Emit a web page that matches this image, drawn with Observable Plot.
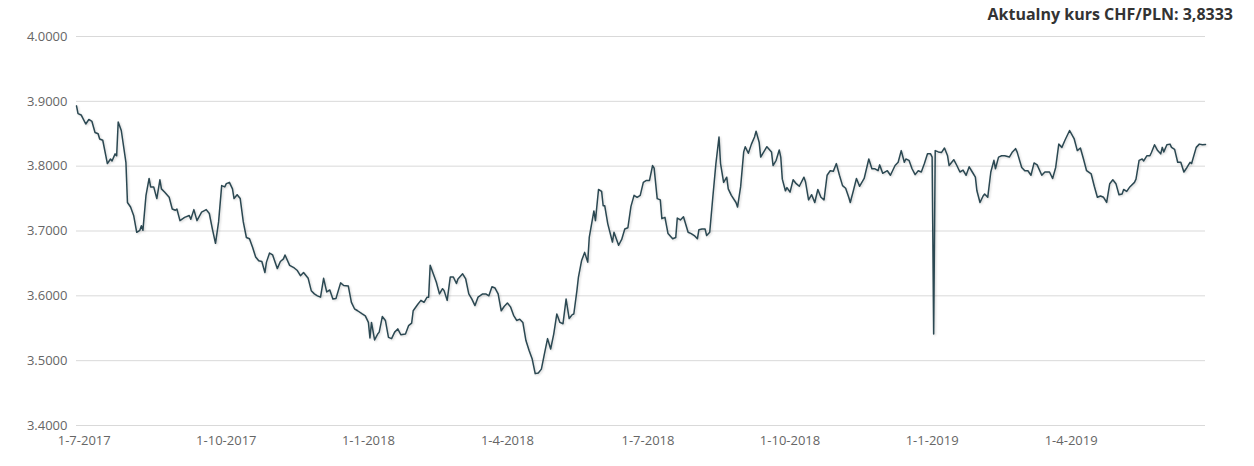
<!DOCTYPE html>
<html><head><meta charset="utf-8">
<script src="https://cdn.jsdelivr.net/npm/d3@7"></script>
<script src="https://cdn.jsdelivr.net/npm/@observablehq/plot@0.6"></script>
<style>
body{margin:0;background:#fff;font-family:"Open Sans",sans-serif;}
#wrap{position:relative;width:1254px;height:466px;}
#title{position:absolute;right:21px;top:3px;font-size:16px;font-weight:700;color:#333;font-family:"Open Sans",sans-serif;}
.series path{filter:drop-shadow(1px 1.5px 1px rgba(0,0,0,0.18));}
</style></head><body><div id="wrap"><div id="title">Aktualny kurs CHF/PLN: 3,8333</div></div>
<script>
const titleText = "Aktualny kurs CHF/PLN: 3,8333";
const yTicks = [3.4, 3.5, 3.6, 3.7, 3.8, 3.9, 4.0];

const dates2017 = [
  "06-26","06-27","06-29",
  "07-02","07-04","07-06","07-08","07-10","07-11","07-13","07-16","07-18","07-19","07-21","07-22","07-23","07-25","07-28","07-29","07-31",
  "08-02","08-04","08-06","08-07","08-08","08-10","08-12","08-13","08-15","08-17","08-19","08-20","08-22","08-25","08-27","08-29","08-30",
  "09-01","09-04","09-07","09-08","09-10","09-12","09-15","09-18","09-20","09-22","09-24","09-26","09-28","09-30",
  "10-01","10-03","10-05","10-06","10-08","10-10","10-12","10-14","10-16","10-18","10-20","10-22","10-24","10-26","10-27","10-29","10-31",
  "11-03","11-05","11-07","11-08","11-11","11-14","11-16","11-18","11-20","11-23","11-25","11-27","11-29",
  "12-01","12-03","12-05","12-07","12-09","12-11","12-14","12-16","12-19","12-21","12-23","12-25","12-28","12-30"
];
const values2017 = [
  3.893,3.881,3.879,
  3.865,3.872,3.869,3.852,3.850,3.842,3.840,3.804,3.811,3.808,3.819,3.816,3.868,3.855,3.806,3.744,3.737,
  3.724,3.698,3.701,3.708,3.701,3.755,3.781,3.768,3.768,3.750,3.779,3.765,3.760,3.752,3.734,3.732,3.734,
  3.716,3.721,3.724,3.718,3.733,3.716,3.729,3.733,3.727,3.703,3.681,3.714,3.770,3.768,
  3.773,3.775,3.765,3.750,3.756,3.750,3.714,3.690,3.688,3.675,3.660,3.654,3.653,3.636,3.652,3.666,3.663,
  3.642,3.653,3.657,3.663,3.647,3.643,3.639,3.631,3.636,3.627,3.608,3.603,3.600,
  3.598,3.627,3.606,3.609,3.595,3.596,3.620,3.616,3.615,3.590,3.580,3.577,3.572,3.569
];

const dates2018 = [
  "01-01","01-02","01-03","01-05","01-07","01-08","01-10","01-12","01-14","01-16","01-18","01-20","01-22","01-25","01-27","01-29","01-30",
  "02-02","02-04","02-06","02-08","02-09","02-10","02-12","02-14","02-16","02-18","02-19","02-21","02-23","02-25","02-27","02-28",
  "03-03","03-05","03-07","03-09","03-11","03-13","03-16","03-18","03-20","03-22","03-24","03-26","03-28","03-30",
  "04-01","04-03","04-05","04-07","04-09","04-11","04-13","04-15","04-17","04-19","04-21","04-23","04-25","04-27","04-29",
  "05-01","05-03","05-05","05-07","05-09","05-11","05-13","05-14","05-16","05-17","05-19","05-21","05-23","05-24","05-27","05-28","05-30",
  "06-01","06-02","06-03","06-05","06-08","06-09","06-12","06-14","06-16","06-18","06-20","06-22","06-24","06-26","06-28","06-30",
  "07-02","07-04","07-05","07-07","07-09","07-10","07-12","07-14","07-17","07-19","07-20","07-22","07-24","07-27","07-29","07-31",
  "08-02","08-03","08-05","08-07","08-08","08-10","08-12","08-14","08-16","08-17","08-19","08-21","08-22","08-24","08-27","08-28","08-30",
  "09-01","09-02","09-04","09-06","09-08","09-09","09-11","09-12","09-14","09-16","09-19","09-20","09-22","09-24","09-25","09-26","09-28","09-29",
  "10-01","10-03","10-05","10-07","10-10","10-11","10-13","10-15","10-17","10-19","10-21","10-23","10-25","10-27","10-29","10-31",
  "11-02","11-04","11-06","11-08","11-09","11-11","11-13","11-15","11-18","11-21","11-23","11-25","11-27","11-28","11-30",
  "12-03","12-05","12-08","12-10","12-12","12-14","12-15","12-17","12-19","12-21","12-23","12-25","12-27","12-29","12-31"
];
const values2018 = [
  3.559,3.535,3.559,3.532,3.541,3.544,3.568,3.562,3.536,3.534,3.544,3.549,3.540,3.541,3.554,3.558,3.577,
  3.587,3.593,3.590,3.598,3.598,3.647,3.634,3.621,3.603,3.611,3.608,3.593,3.629,3.629,3.619,3.626,
  3.634,3.626,3.603,3.595,3.585,3.598,3.603,3.603,3.600,3.614,3.612,3.603,3.577,3.584,
  3.589,3.583,3.570,3.562,3.564,3.559,3.531,3.516,3.503,3.480,3.481,3.487,3.511,3.534,3.518,
  3.541,3.572,3.559,3.557,3.595,3.565,3.571,3.572,3.608,3.629,3.654,3.667,3.652,3.690,3.731,3.716,3.764,
  3.761,3.739,3.739,3.711,3.683,3.698,3.678,3.687,3.703,3.705,3.738,3.755,3.752,3.755,3.775,3.778,
  3.778,3.801,3.797,3.750,3.748,3.719,3.721,3.696,3.688,3.690,3.720,3.717,3.722,3.698,3.696,3.693,
  3.688,3.702,3.703,3.703,3.693,3.698,3.752,3.804,3.845,3.804,3.775,3.783,3.765,3.755,3.744,3.737,3.768,
  3.822,3.830,3.820,3.834,3.845,3.854,3.837,3.814,3.822,3.830,3.822,3.801,3.809,3.825,3.814,3.780,3.762,3.767,
  3.760,3.779,3.773,3.769,3.783,3.776,3.748,3.756,3.744,3.764,3.752,3.748,3.786,3.793,3.792,3.804,
  3.786,3.770,3.766,3.752,3.744,3.762,3.781,3.769,3.781,3.811,3.796,3.796,3.793,3.802,3.789,
  3.793,3.786,3.801,3.806,3.824,3.806,3.811,3.809,3.796,3.787,3.793,3.791,3.804,3.819,3.819
];

const dates2019 = [
  "01-01","01-02","01-03","01-05","01-07","01-09","01-11","01-12","01-15","01-17","01-19","01-21","01-23","01-25","01-27","01-29","01-30",
  "02-01","02-03","02-04","02-06","02-08","02-10","02-11","02-13","02-15","02-17","02-20","02-22","02-24","02-25","02-28",
  "03-02","03-04","03-06","03-08","03-10","03-13","03-15","03-18","03-20","03-22","03-24","03-26","03-28","03-31",
  "04-03","04-05","04-07","04-09","04-11","04-14","04-16","04-18","04-20","04-22","04-24","04-26","04-28","04-30",
  "05-02","05-04","05-05","05-07","05-09","05-12","05-13","05-15","05-17","05-18","05-20","05-22","05-23","05-25","05-27","05-29","05-30","05-31",
  "06-02","06-04","06-05","06-07","06-09","06-11","06-13","06-15","06-17","06-18","06-21","06-23","06-25","06-27"
];
const values2019 = [
  3.814,3.541,3.824,3.822,3.821,3.828,3.816,3.801,3.810,3.801,3.791,3.794,3.786,3.799,3.791,3.783,3.762,
  3.744,3.754,3.757,3.752,3.791,3.809,3.796,3.814,3.816,3.816,3.814,3.822,3.827,3.822,3.798,
  3.793,3.793,3.786,3.805,3.802,3.786,3.791,3.791,3.781,3.798,3.834,3.829,3.840,3.855,
  3.842,3.824,3.828,3.811,3.793,3.788,3.769,3.752,3.754,3.752,3.744,3.773,3.779,3.773,
  3.756,3.757,3.764,3.761,3.768,3.775,3.780,3.809,3.811,3.808,3.816,3.816,3.821,3.833,3.824,3.819,3.829,3.822,
  3.833,3.834,3.829,3.826,3.806,3.806,3.791,3.798,3.806,3.804,3.829,3.834,3.833,3.8333
];

function build(year, ds, vs) {
  const n = Math.min(ds.length, vs.length);
  return d3.range(n).map(i => ({date: new Date(`${year}-${ds[i]}T00:00:00Z`), value: vs[i]}));
}
const data = [
  ...build(2017, dates2017, values2017),
  ...build(2018, dates2018, values2018),
  ...build(2019, dates2019, values2019)
];

const chart = Plot.plot({
  width: 1254,
  height: 466,
  marginTop: 36,
  marginBottom: 41,
  marginLeft: 76,
  marginRight: 49,
  style: {fontFamily: '"Open Sans", sans-serif', fontSize: "13px", color: "#666", background: "transparent", overflow: "visible"},
  x: {
    type: "utc",
    domain: d3.extent(data, d => d.date),
    ticks: d3.utcMonth.every(3),
    tickFormat: d3.utcFormat("%-d-%-m-%Y"),
    tickSize: 0,
    tickPadding: 10,
    label: null
  },
  y: {
    domain: [3.4, 4.0],
    ticks: yTicks,
    tickFormat: d3.format(".4f"),
    tickSize: 0,
    tickPadding: 9,
    label: null
  },
  marks: [
    Plot.gridY(yTicks, {stroke: "#d9d9d9", strokeOpacity: 1}),
    Plot.lineY(data, {x: "date", y: "value", stroke: "#2b4852", strokeWidth: 1.5, className: "series"})
  ]
});
document.getElementById("wrap").appendChild(chart);
document.getElementById("title").textContent = titleText;
</script>
</body></html>
